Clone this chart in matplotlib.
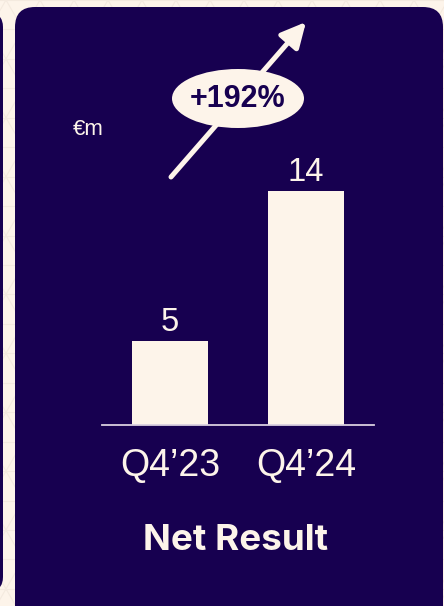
import matplotlib
matplotlib.use("Agg")
import numpy as np
import matplotlib.pyplot as plt
from matplotlib.patches import FancyBboxPatch, Ellipse

# dados (€m)
periods = ["Q4\u201923", "Q4\u201924"]
net_result = [5, 14]
growth_label = "+192%"
unit_label = "\u20acm"
title = "Net Result"

NAVY = "#170050"
CREAM = "#fdf4ea"
W, H = 444, 606

fig = plt.figure(figsize=(W / 100, H / 100), dpi=100)
fig.patch.set_facecolor(CREAM)

# eixo de fundo em pixels (origem no topo)
bg = fig.add_axes([0, 0, 1, 1])
bg.set_xlim(0, W)
bg.set_ylim(H, 0)
bg.axis("off")

# padrão de triângulos bem suave no fundo creme
step = 34
slope = np.tan(np.radians(60))
for x0 in np.arange(-H, W + H, step):
    yy = np.array([0, H])
    bg.plot(x0 + yy / slope, yy, color="#f4eadf", lw=0.8, zorder=0)
    bg.plot(x0 - yy / slope, yy, color="#f4eadf", lw=0.8, zorder=0)
for y0 in np.arange(0, H, step * slope / 2):
    bg.axhline(y0, color="#f4eadf", lw=0.8, zorder=0)

# cartão escuro + pedaço do cartão vizinho à esquerda
bg.add_patch(FancyBboxPatch((15, 7), 428, 640, boxstyle="round,pad=0,rounding_size=20",
                            fc=NAVY, ec="none", zorder=1))
bg.add_patch(FancyBboxPatch((-40, 13), 43, 578, boxstyle="round,pad=0,rounding_size=14",
                            fc=NAVY, ec="none", zorder=1))

# seta de crescimento com a elipse por cima
bg.annotate("", xy=(306, 22), xytext=(171, 177),
            arrowprops=dict(arrowstyle="-|>,head_length=1.0,head_width=0.5",
                            lw=3.6, color=CREAM, mutation_scale=15, shrinkA=0, shrinkB=0),
            zorder=3)
bg.add_patch(Ellipse((238, 98.5), 132, 59, fc=CREAM, ec="none", zorder=5))
bg.text(238, 99, growth_label, ha="center", va="center", fontsize=22, fontweight="bold",
        color=NAVY, family="Liberation Sans", zorder=6)

bg.text(73, 135, unit_label, ha="left", va="baseline", fontsize=16, color=CREAM,
        family="Liberation Sans", zorder=3)
bg.text(236, 550, title, ha="center", va="baseline", fontsize=26.5, fontweight="bold",
        color=CREAM, family="Inter", zorder=3)

# barras
ax = fig.add_axes([102 / W, 181.3 / H, 272 / W, 267 / H])
ax.patch.set_alpha(0)
x = range(len(periods))
bars = ax.bar(x, net_result, width=0.555, color=CREAM, zorder=2)
ax.set_xlim(-0.5, 1.5)
ax.set_ylim(0, 16)

for b, v in zip(bars, net_result):
    ax.annotate(f"{v}", (b.get_x() + b.get_width() / 2, v), xytext=(0, 7.5),
                textcoords="offset points", ha="center", va="baseline",
                fontsize=23.5, color=CREAM, family="Liberation Sans")

for s in ["top", "right", "left"]:
    ax.spines[s].set_visible(False)
ax.spines["bottom"].set_color("#d9cfe0")
ax.spines["bottom"].set_linewidth(1.3)
ax.set_yticks([])
ax.set_xticks(list(x))
ax.set_xticklabels(periods, fontsize=27, color=CREAM, family="Liberation Sans")
ax.tick_params(axis="x", length=0, pad=37)
for lbl in ax.get_xticklabels():
    lbl.set_verticalalignment("baseline")

fig.savefig("out.png", dpi=100, facecolor=fig.get_facecolor())
